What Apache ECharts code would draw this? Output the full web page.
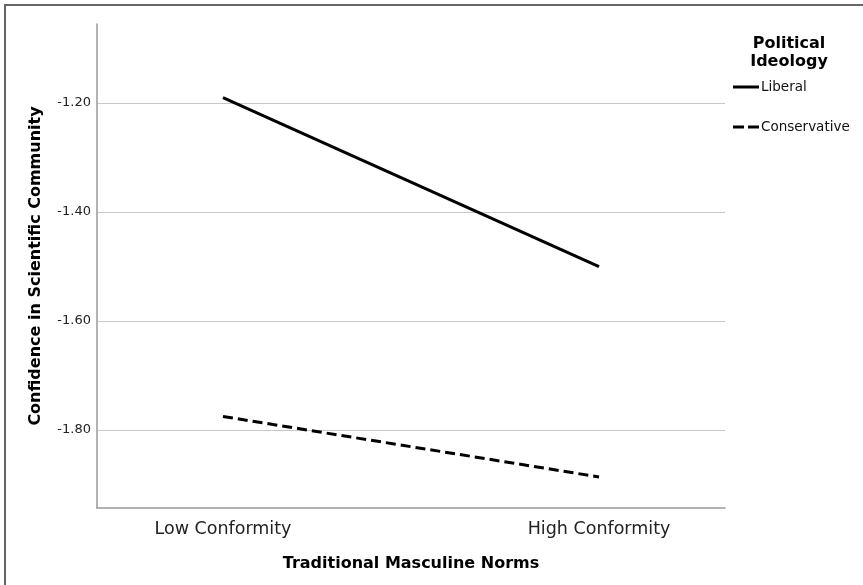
<!DOCTYPE html>
<html>
<head>
<meta charset="utf-8">
<script src="https://cdn.jsdelivr.net/npm/echarts@6/dist/echarts.min.js"></script>
<style>
html,body{margin:0;padding:0;background:#fff;}
#chart{position:absolute;left:0;top:0;width:863px;height:585px;}
#frame{position:absolute;left:4px;top:4px;width:870px;height:600px;border-left:2px solid #666;border-top:2px solid #666;pointer-events:none;}
</style>
</head>
<body>
<div id="chart"></div>
<div id="frame"></div>
<script>
var categories = ['Low Conformity', 'High Conformity'];
var categoryPos = [0, 1];
var liberal = [-1.19, -1.50];
var conservative = [-1.775, -1.886];
var yTicks = [-1.8, -1.6, -1.4, -1.2];
var seriesNames = ['Liberal', 'Conservative'];
var legendTitle = 'Political\nIdeology';
var xTitle = 'Traditional Masculine Norms';
var yTitle = 'Confidence in Scientific Community';

var FONT = 'DejaVu Sans';
function pairs(vals){ return categoryPos.map(function(x,i){ return [x, vals[i]]; }); }

var chart = echarts.init(document.getElementById('chart'), null, {renderer:'canvas'});
chart.setOption({
  animation:false,
  textStyle:{fontFamily:FONT},
  title:{text:legendTitle,left:784,top:30,textAlign:'center',
    textStyle:{fontFamily:FONT,fontWeight:'bold',fontSize:16,lineHeight:18,color:'#000'}},
  legend:{orient:'vertical',left:728,top:75,itemGap:26,itemWidth:26,itemHeight:3,
    data:[
      {name:seriesNames[0],icon:'path://M0,0H26V3H0Z'},
      {name:seriesNames[1],icon:'path://M0,0H11V3H0Z M15,0H26V3H15Z'}
    ],
    itemStyle:{color:'#000'},
    textStyle:{fontFamily:FONT,fontSize:13.5,color:'#111',padding:[0,0,0,-3]}},
  grid:{left:97,right:138,top:24,bottom:77,containLabel:false},
  xAxis:{type:'value',min:-0.335,max:1.335,
    name:xTitle,nameLocation:'middle',nameGap:48,
    nameTextStyle:{fontFamily:FONT,fontWeight:'bold',fontSize:16,color:'#000'},
    axisLine:{show:true,onZero:false,lineStyle:{color:'#999',width:1.5}},
    axisTick:{show:false,customValues:categoryPos},
    splitLine:{show:false},
    axisLabel:{customValues:categoryPos,margin:12,fontSize:17.5,color:'#222',fontFamily:FONT,
      formatter:function(v){ var i=categoryPos.indexOf(v); return i>=0?categories[i]:''; }}
  },
  yAxis:{type:'value',min:-1.943,max:-1.055,
    name:yTitle,nameLocation:'middle',nameGap:53,
    nameTextStyle:{fontFamily:FONT,fontWeight:'bold',fontSize:16,color:'#000'},
    axisLine:{show:true,onZero:false,lineStyle:{color:'#999',width:1.5}},
    axisTick:{show:false,customValues:yTicks},
    splitLine:{show:true,lineStyle:{color:'#c8c8c8',width:1}},
    axisLabel:{customValues:yTicks,margin:6,fontSize:13,color:'#222',fontFamily:FONT,
      formatter:function(v){ return v.toFixed(2); }}
  },
  series:[
    {name:seriesNames[0],type:'line',data:pairs(liberal),symbol:'none',
      lineStyle:{color:'#000',width:3,type:'solid'},itemStyle:{color:'#000'}},
    {name:seriesNames[1],type:'line',data:pairs(conservative),symbol:'none',
      lineStyle:{color:'#000',width:3,type:[10,5]},itemStyle:{color:'#000'}}
  ]
});
</script>
</body>
</html>
